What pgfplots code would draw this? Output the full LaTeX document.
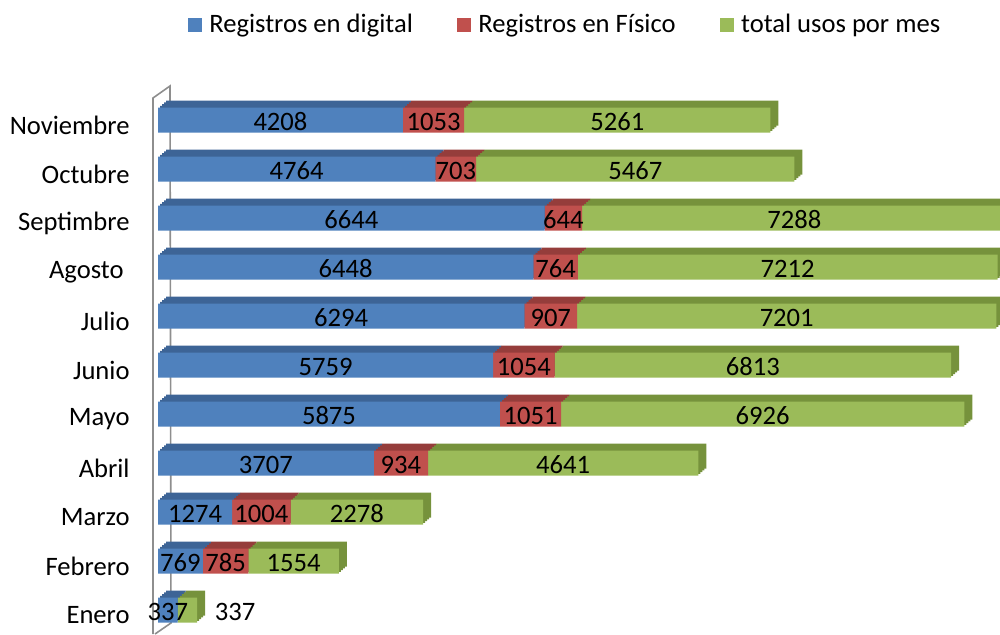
\documentclass[border=0pt]{standalone}
\usepackage{pgfplots}
\pgfplotsset{compat=1.18}
\usepackage{pgfplotstable}
\usepackage{fontspec}
\setmainfont{Carlito}
\definecolor{cblue}{HTML}{4F81BD}
\definecolor{cred}{HTML}{C0504D}
\definecolor{cgreen}{HTML}{9BBB59}
\definecolor{dblue}{HTML}{3D6496}
\definecolor{dred}{HTML}{953D3B}
\definecolor{dgreen}{HTML}{76923C}
\definecolor{wall}{HTML}{8E8E8E}

\pgfplotstableread{
y dig fis tot
0 337 0 337
1 769 785 1554
2 1274 1004 2278
3 3707 934 4641
4 5875 1051 6926
5 5759 1054 6813
6 6294 907 7201
7 6448 764 7212
8 6644 644 7288
9 4764 703 5467
10 4208 1053 5261
}\data

\newcommand{\cfont}{\fontsize{13.3}{15}\selectfont}

\pgfplotsset{
 base/.style={scale only axis, width=424.2pt, height=269.5pt, xmin=0, xmax=14576,
   ymin=-0.5, ymax=10.5, clip=false, anchor=south west},
 layer/.style={base, hide axis, xbar stacked, bar width=12.5pt},
}

\begin{document}
\begin{tikzpicture}
\useasboundingbox (0,0) rectangle (500pt,317pt);
% back wall
\draw[wall, line width=0.8pt] (76.5pt,0pt) -- (76.5pt,268pt) -- (85pt,274pt) -- (85.5pt,5.5pt) -- (77.5pt,0pt);

\pgfplotsinvokeforeach{4,3,2,1}{
\begin{axis}[layer, at={({79pt+#1*1pt},{-0.25pt+#1*0.875pt})}]
 \addplot[fill=dblue, draw=none] table[x=dig,y=y]{\data};
 \addplot[fill=dred, draw=none] table[x=fis,y=y]{\data};
 \addplot[fill=dgreen, draw=none] table[x=tot,y=y]{\data};
\end{axis}
}

\begin{axis}[base, xbar stacked, bar width=12.5pt, at={(79pt,-0.25pt)},
  hide x axis, axis y line*=left, y axis line style={draw=none},
  ytick={0,...,10}, major tick length=0pt, ytick style={draw=none},
  yticklabels={Enero,Febrero,Marzo,Abril,Mayo,Junio,Julio,{Agosto\kern3pt},Septimbre,Octubre,Noviembre},
  yticklabel style={anchor=east, inner sep=0pt, xshift=-14pt, yshift=-2.5pt, font=\cfont},
  legend columns=3,
  legend image code/.code={\fill[#1] (0pt,-3.5pt) rectangle (7pt,3.5pt);},
  legend style={at={(0.4786,1.1308)}, anchor=center, draw=none, font=\cfont,
    nodes={inner sep=0pt},
    /tikz/every odd column/.append style={column sep=3.75pt},
    /tikz/every even column/.append style={column sep=22pt}},
]
 \addplot[fill=cblue, draw=none] table[x=dig,y=y]{\data};
 \addplot[fill=cred, draw=none] table[x=fis,y=y]{\data};
 \addplot[fill=cgreen, draw=none] table[x=tot,y=y]{\data};
 \legend{Registros en digital, Registros en Físico, total usos por mes}
\end{axis}

\begin{axis}[base, hide axis, at={(79pt,-0.25pt)}, point meta=explicit symbolic,
  nodes near coords,
  every node near coord/.append style={anchor=center, inner sep=0pt, yshift=-1pt, font=\cfont}]
 \addplot[only marks, mark=none] table[x expr=\thisrow{dig}/2, y=y, meta=dig]{\data};
 \addplot[only marks, mark=none, skip coords between index={0}{1}] table[x expr=\thisrow{dig}+\thisrow{fis}/2, y=y, meta=fis]{\data};
 \addplot[only marks, mark=none, skip coords between index={0}{1}] table[x expr=\thisrow{dig}+\thisrow{fis}+\thisrow{tot}/2, y=y, meta=tot]{\data};
 \addplot[only marks, mark=none] coordinates {(1323,0) [337]};
\end{axis}
\end{tikzpicture}
\end{document}
